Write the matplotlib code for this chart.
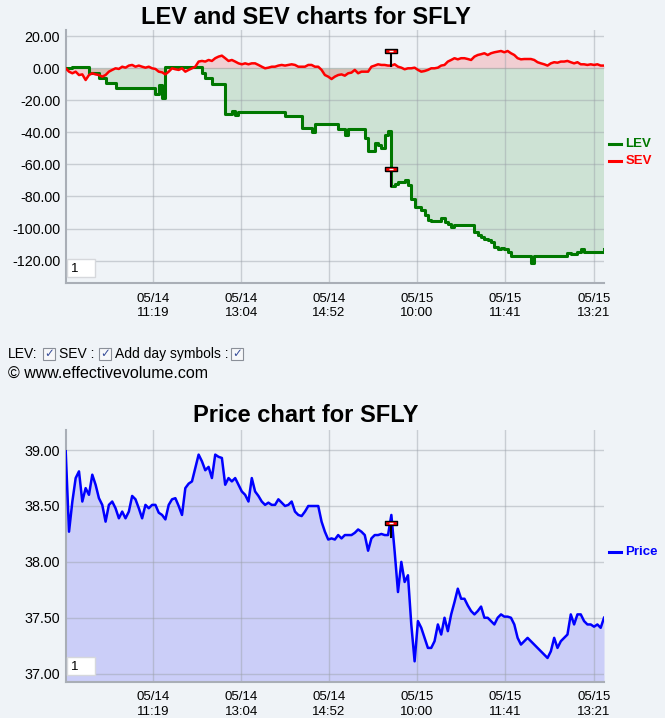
import numpy as np
import matplotlib.pyplot as plt
from matplotlib.patches import Rectangle
from matplotlib.lines import Line2D

plt.rcParams['font.family'] = ['Liberation Sans', 'DejaVu Sans']
plt.rcParams['axes.unicode_minus'] = False

# LEV / SEV values, one per bar
lev = [0, 0.4, 1.0, 1.0, 1.0, 1.0, 1.0, -2.7, -2.7, -2.7, -6.3, -6.3, -9.4, -9.4, -9.4,
       -12.5, -12.5, -12.5, -12.5, -12.5, -12.5, -12.5, -12.5, -12.5, -12.5, -12.5, -12.5,
       -16.0, -10.4, -18.3, 1.0, 1.0, 1.0, 1.0, 1.0, 1.0, 1.0, 1.0, 1.0, 1.0, 1.0,
       -3.1, -6.3, -6.3, -10.0, -10.0, -10.0, -10.0, -28.8, -28.8, -26.7, -29.2,
       -27.5, -27.5, -27.5, -27.5, -27.5, -27.5, -27.5, -27.5, -27.5, -27.5, -27.5, -27.5, -27.5, -27.5,
       -29.6, -29.6, -29.6, -29.6, -29.6, -37.1, -37.1, -37.1, -39.6,
       -34.8, -34.8, -34.8, -34.8, -34.8, -34.8,
       -34.8, -38.1, -38.1, -41.7, -38.1, -38.1, -38.1, -38.1, -38.1, -43.8, -51.7, -51.7,
       -46.9, -47.9, -50.0, -41.7, -39.2, -73.3, -71.9, -70.8, -70.8, -69.6, -72.9, -81.3,
       -86.5, -86.5, -88.5, -91.7, -94.8, -95.4, -95.4, -95.4, -93.3, -95.8, -96.9, -99.0,
       -97.5, -97.5, -97.5, -97.5, -97.5, -97.5, -102.1, -104.2, -105.2, -106.3, -107.3, -108.3,
       -111.5, -112.5, -111.9, -112.5, -114.6, -117.1, -117.1, -117.1, -117.1, -117.1, -117.1,
       -121.3, -117.1, -117.1, -117.1, -117.1, -117.1, -117.1, -117.1, -117.1, -117.1, -117.1,
       -115.0, -115.6, -115.6, -114.6, -112.9, -114.6, -114.6, -114.6, -114.6, -114.6, -114.6, -112.9]

sev = [0, -2.1, -3.1, -2.1, -4.2, -3.8, -7.3, -4.2, -3.1, -3.8, -4.2, -5.2, -4.2, -2.1, -1.0, 0,
       -0.4, 1.0, 0.4, 1.7, 2.1, 1.0, 1.7, 1.0, 0.4, 1.0, 0, -0.4, -2.1, -2.5, -3.8, -2.1, 0,
       -0.6, -1.0, 0, -2.1, -1.0, 0, 1.0, 4.2, 4.6, 4.2, 5.2, 4.6, 6.3, 7.3, 7.9, 6.3, 4.6, 5.2,
       4.2, 3.1, 2.5, 3.1, 2.5, 3.1, 3.1, 2.1, 1.0, 0, 0.4, 1.0, 1.0, 1.7, 2.1, 1.7, 2.1, 2.5,
       2.1, 1.0, 1.0, 1.0, 2.1, 2.1, 1.0, 1.0, -1.0, -4.2, -5.2, -6.7,
       -5.2, -4.2, -3.8, -4.6, -3.1, -2.7, -1.0, -3.1, -2.1, -2.1, -2.1, 1.0, 1.7, 2.5, 2.1,
       2.1, 1.7, 1.7, 2.5, 1.0, 0.4, -0.6, 0, 0, 0.4, -1.0, -2.1, -1.7, -1.0, 0, 0, 0.4, 1.7,
       2.1, 4.2, 5.2, 6.3, 5.6, 6.3, 6.3, 5.8, 5.2, 7.3, 8.3, 8.8, 9.4, 8.3, 9.4, 10.0, 10.4,
       10.8, 10.0, 10.8, 9.4, 8.3, 6.3, 5.6, 5.8, 5.8, 5.8, 5.2, 3.8, 3.1, 2.5, 1.7, 3.1, 3.8,
       3.5, 4.2, 4.2, 4.6, 3.8, 3.1, 3.8, 2.5, 2.5, 2.1, 2.5, 2.1, 2.5, 1.7, 1.7]

price = [38.99, 38.27, 38.54, 38.75, 38.81, 38.54, 38.66, 38.60, 38.78, 38.69, 38.57, 38.51,
         38.36, 38.51, 38.54, 38.48, 38.39, 38.45, 38.39, 38.45, 38.59, 38.56, 38.48, 38.39,
         38.51, 38.48, 38.51, 38.51, 38.44, 38.42, 38.38, 38.51, 38.56, 38.57, 38.50, 38.42,
         38.66, 38.70, 38.72, 38.84, 38.96, 38.90, 38.82, 38.85, 38.75, 38.96, 38.94, 38.93,
         38.69, 38.75, 38.72, 38.75, 38.69, 38.63, 38.60, 38.54, 38.75, 38.63, 38.59, 38.54,
         38.51, 38.53, 38.51, 38.51, 38.56, 38.53, 38.50, 38.51, 38.54, 38.45, 38.42, 38.41,
         38.45, 38.50, 38.50, 38.50, 38.50, 38.36, 38.27, 38.20, 38.21,
         38.20, 38.24, 38.21, 38.24, 38.24, 38.24, 38.26, 38.29, 38.27, 38.24, 38.10, 38.21,
         38.24, 38.24, 38.25, 38.24, 38.24, 38.42, 38.09, 37.73, 38.00, 37.82, 37.88, 37.44,
         37.11, 37.47, 37.41, 37.32, 37.23, 37.23, 37.29, 37.44, 37.35, 37.50, 37.38, 37.53,
         37.64, 37.76, 37.67, 37.67, 37.61, 37.56, 37.53, 37.56, 37.60, 37.50, 37.50, 37.47,
         37.44, 37.50, 37.53, 37.51, 37.51, 37.50, 37.44, 37.32, 37.26, 37.29, 37.32, 37.29,
         37.26, 37.23, 37.20, 37.17, 37.14, 37.20, 37.32, 37.23, 37.29, 37.32, 37.35, 37.53,
         37.44, 37.53, 37.53, 37.47, 37.44, 37.44, 37.42, 37.44, 37.41, 37.50]

tick_pos = [26.2, 52.8, 79.2, 105.7, 132.2, 159]
tick_labels = ['05/14\n11:19', '05/14\n13:04', '05/14\n14:52',
               '05/15\n10:00', '05/15\n11:41', '05/15\n13:21']
day_idx = 98
lev_flag = (-63, -73.3)
sev_flag = (11, 1.7)
price_flag = (38.35, 38.22)

bg = '#eff3f7'
fig = plt.figure(figsize=(6.65, 7.18), dpi=100, facecolor=bg)
ax1 = fig.add_axes([0.0988, 0.6054, 0.8095, 0.3528], facecolor=bg)
ax2 = fig.add_axes([0.0988, 0.0506, 0.8095, 0.3505], facecolor=bg)


def style(ax):
    for s in ['top', 'right']:
        ax.spines[s].set_visible(False)
    for s in ['left', 'bottom']:
        ax.spines[s].set_color('#a9aeb6')
        ax.spines[s].set_linewidth(1.5)
    ax.grid(True, color='#9aa0a8', alpha=0.45, lw=1)
    ax.set_xlim(0, 162)
    ax.set_xticks(tick_pos)
    ax.set_xticklabels(tick_labels, fontsize=9.5, linespacing=1.25)
    ax.tick_params(axis='x', length=0, pad=7)
    ax.tick_params(axis='y', length=0, pad=4, labelsize=10.3)
    ax.add_patch(Rectangle((0.002, 0.025), 0.053, 0.072, transform=ax.transAxes,
                           fc='white', ec='#d6d8dc', lw=1, zorder=8))
    ax.text(0.009, 0.058, '1', transform=ax.transAxes, fontsize=9.5, va='center', zorder=9)


def day_flag(ax, xpos, top, bottom):
    ax.plot([xpos, xpos], [top, bottom], color='black', lw=1.5, zorder=5)
    ax.plot(xpos, top, marker=[(-3, -1), (3, -1), (3, 1), (-3, 1), (-3, -1)], ms=8.5,
            mfc='red', mec='black', mew=1, zorder=6)
    ax.plot(xpos, top, marker='_', ms=2.5, mec='white', mew=1, zorder=7)


x = np.arange(len(lev))

# LEV / SEV chart
ax1.fill_between(x, lev, 0, step='post', color='green', alpha=0.14, lw=0)
ax1.fill_between(np.arange(len(sev)), sev, 0, color='red', alpha=0.15, lw=0)
ax1.plot(x, lev, drawstyle='steps-post', color='#007800', lw=2.2, zorder=3)
ax1.plot(np.arange(len(sev)), sev, color='#ff0000', lw=1.8, zorder=4)
day_flag(ax1, day_idx, *sev_flag)
day_flag(ax1, day_idx, *lev_flag)
ax1.set_ylim(-134.2, 23.9)
ax1.set_yticks(np.arange(-120, 21, 20))
ax1.set_yticklabels(['%.2f' % v for v in np.arange(-120, 21, 20)])
style(ax1)

for i, (lab, col) in enumerate([('LEV', '#007800'), ('SEV', '#ff0000')]):
    yy = 0.55 - i * 0.066
    ax1.add_line(Line2D([1.009, 1.032], [yy, yy], transform=ax1.transAxes, color=col,
                        lw=2.2, clip_on=False))
    ax1.text(1.04, yy, lab, transform=ax1.transAxes, color=col, fontsize=9.5,
             fontweight='bold', va='center')

# price chart
xp = np.arange(len(price))
ax2.fill_between(xp, price, 36.9, color='#0000ff', alpha=0.15, lw=0)
ax2.plot(xp, price, color='#0000ff', lw=1.8, zorder=3)
day_flag(ax2, day_idx, *price_flag)
ax2.set_ylim(36.928, 39.18)
ax2.set_yticks([37.0, 37.5, 38.0, 38.5, 39.0])
ax2.set_yticklabels(['%.2f' % v for v in [37.0, 37.5, 38.0, 38.5, 39.0]])
style(ax2)
ax2.add_line(Line2D([1.009, 1.032], [0.515, 0.515], transform=ax2.transAxes,
                    color='#0000ff', lw=2.2, clip_on=False))
ax2.text(1.04, 0.515, 'Price', transform=ax2.transAxes, color='#0000ff', fontsize=9.5,
         fontweight='bold', va='center')

# titles
fig.text(306 / 665, 1 - 17 / 718, 'LEV and SEV charts for SFLY', ha='center', va='center',
         fontsize=17, fontweight='bold')
fig.text(306 / 665, 1 - 416 / 718, 'Price chart for SFLY', ha='center', va='center',
         fontsize=17, fontweight='bold')

# options line
yopt = 1 - 354 / 718
for txt, xpx in [('LEV:', 8), ('SEV :', 59), ('Add day symbols :', 115)]:
    fig.text(xpx / 665, yopt, txt, fontsize=10, va='center')
for xpx in [43, 99, 231]:
    fig.add_artist(Rectangle((xpx / 665, yopt - 6 / 718), 12 / 665, 12 / 718,
                             transform=fig.transFigure, fc='#f7f8fa', ec='#8a8f98', lw=0.8))
    fig.text((xpx + 6) / 665, yopt, '\u2713', family='DejaVu Sans', fontsize=8.5,
             color='#3a4f9a', ha='center', va='center')
fig.text(8 / 665, 1 - 373 / 718, '\u00a9 www.effectivevolume.com', fontsize=11.5, va='center')

fig.savefig('out.png', dpi=100, facecolor=bg)
